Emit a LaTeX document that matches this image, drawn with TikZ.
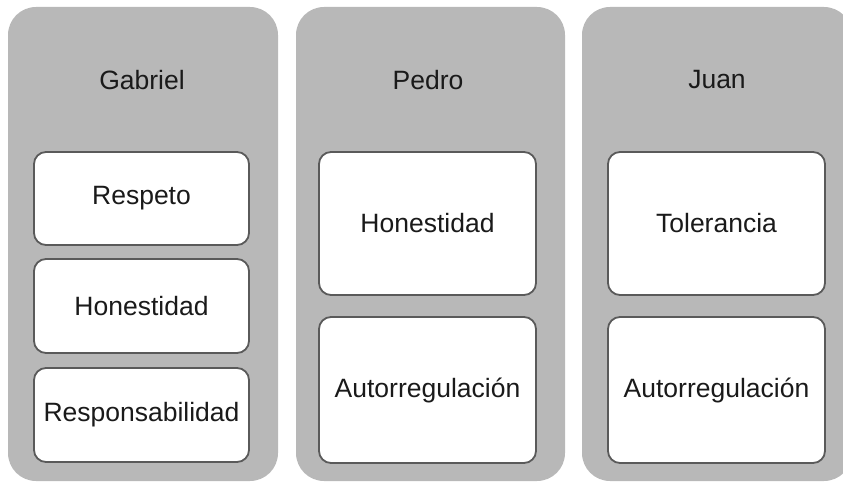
\documentclass[tikz,border=0pt]{standalone}
\usepackage{fontspec}
\setmainfont{Liberation Sans}
\begin{document}
\begin{tikzpicture}[x=1bp,y=-1bp,
  col/.style={fill=colgray,draw=none,rounded corners=28bp},
  item/.style={draw=boxline,line width=1.8bp,fill=white,rounded corners=12bp},
  lbl/.style={text=txt,font=\fontsize{26.5bp}{30bp}\selectfont,inner sep=0pt}]
\definecolor{colgray}{HTML}{B8B8B8}
\definecolor{boxline}{HTML}{5A5A5A}
\definecolor{txt}{HTML}{1A1A1A}
\useasboundingbox (0,0) rectangle (843,483);
\clip (0,0) rectangle (843,483);
% columns
\path[col] (8,7) rectangle (278,481);
\path[col] (296,7) rectangle (565,481);
\path[col] (582,7) rectangle (852,481);
% titles
\node[lbl] (t1) at (142,80) {Gabriel};
\node[lbl] (t2) at (428,80) {Pedro};
\node[lbl] (t3) at (717,80) {Juan};
% column 1 boxes
\draw[item] (34,152) rectangle (249,245);
\node[lbl] (g1) at (141.5,198.5) {Respeto};
\draw[item] (34,259) rectangle (249,353);
\node[lbl] (g2) at (141.5,306) {Honestidad};
\draw[item] (34,368) rectangle (249,462);
\node[lbl] (g3) at (141.5,415) {Responsabilidad};
% column 2 boxes
\draw[item] (319,152) rectangle (536,295);
\node[lbl] (p1) at (427.5,223.5) {Honestidad};
\draw[item] (319,317) rectangle (536,463);
\node[lbl] (p2) at (427.5,390) {Autorregulación};
% column 3 boxes
\draw[item] (608,152) rectangle (825,295);
\node[lbl] (j1) at (716.5,223.5) {Tolerancia};
\draw[item] (608,317) rectangle (825,463);
\node[lbl] (j2) at (716.5,390) {Autorregulación};
\end{tikzpicture}
\end{document}
